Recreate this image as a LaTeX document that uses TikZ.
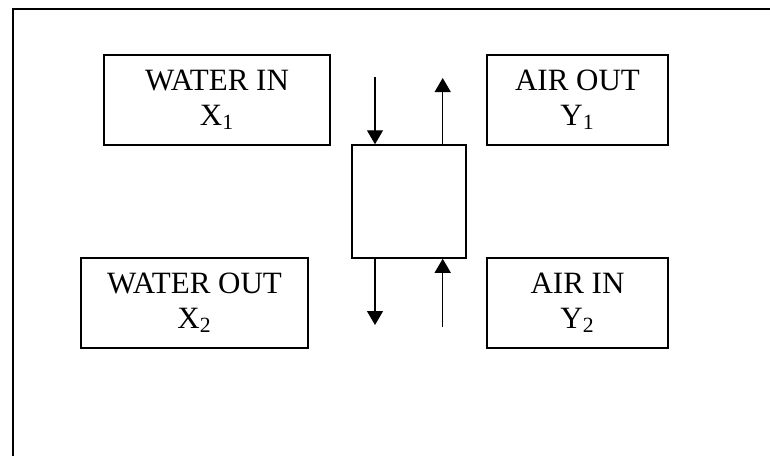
\documentclass[tikz,border=0pt]{standalone}
\usepackage{fontspec}
\setmainfont{Liberation Serif}
\usetikzlibrary{arrows.meta}
\begin{document}
\begin{tikzpicture}[x=0.5pt,y=-0.5pt,>={Triangle[width=8pt,length=7pt]},
  stream/.style={draw, line width=0.75pt, minimum width=113pt, minimum height=45pt,
    inner sep=0pt, align=center, font=\fontsize{15.5}{17.5}\selectfont},
  flow/.style={line width=0.65pt}]
\useasboundingbox (0,0) rectangle (770,456);
%%% The frame round the sheet
\draw[line width=1.1pt] (13,456) -- (13,9) -- (770,9);
%%% The boxes of the four streams
\node[stream] (waterin) at (217,100) {WATER IN\\X\textsubscript{1}};
\node[stream, minimum width=90.5pt] (airout) at (577.5,100) {AIR OUT\\Y\textsubscript{1}};
\node[stream, minimum width=113.5pt] (waterout) at (194.5,303) {WATER OUT\\X\textsubscript{2}};
\node[stream, minimum width=90.5pt] (airin) at (577.5,303) {AIR IN\\Y\textsubscript{2}};
%%% The column
\node[draw, line width=0.75pt, minimum width=56.85pt, minimum height=56.5pt] (column) at (409,201.5) {};
%%% The free ends of the arrows
\coordinate (win) at (375,77);
\coordinate (aout) at (442.7,78);
\coordinate (wout) at (375,325);
\coordinate (ain) at (442.7,327);
%%%%% water goes down, air goes up
\draw[flow, ->] (win) -- (win |- column.north);
\draw[flow, ->] (aout |- column.north) -- (aout);
%
\draw[flow, ->] (wout |- column.south) -- (wout);
\draw[flow, ->] (ain) -- (ain |- column.south);
\end{tikzpicture}
\end{document}
